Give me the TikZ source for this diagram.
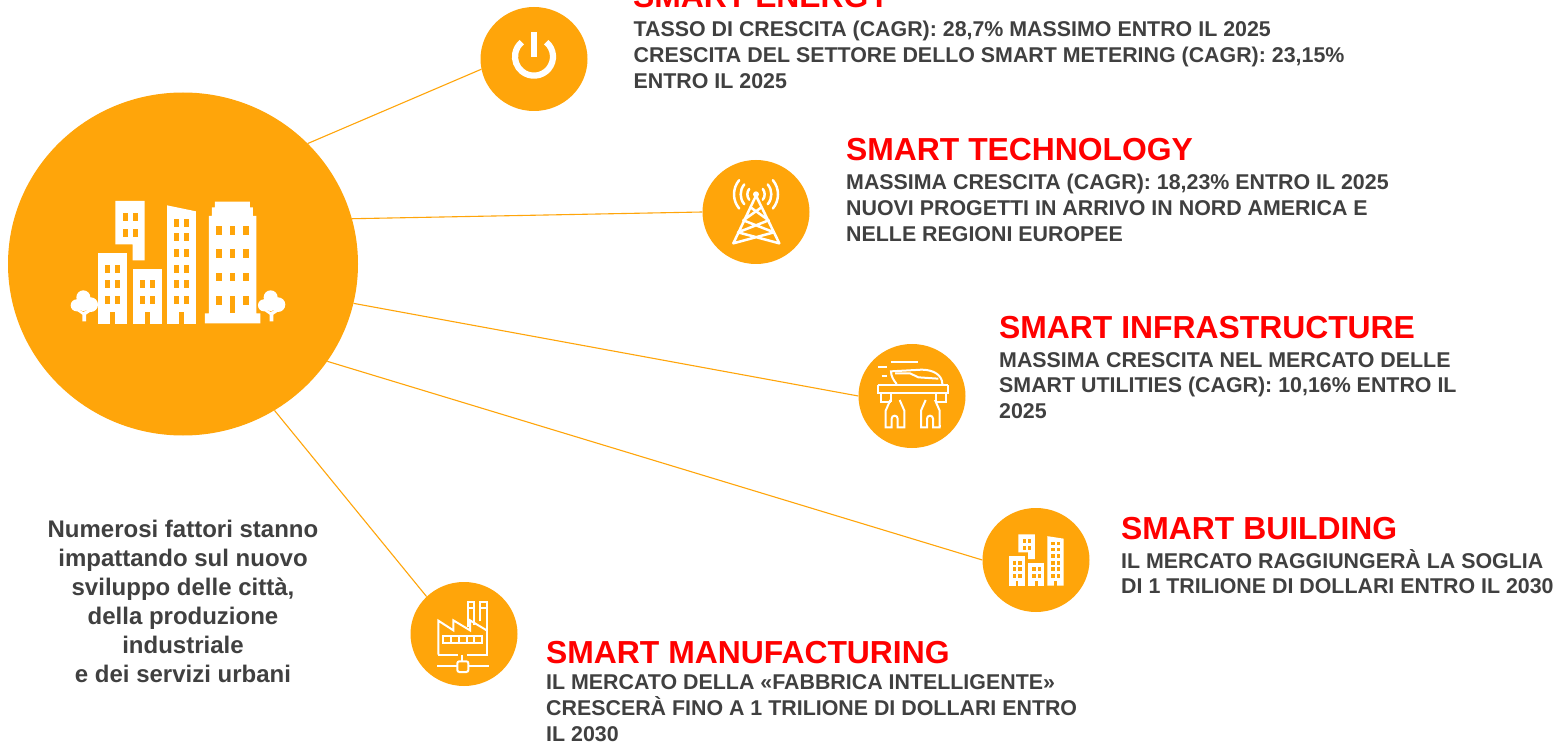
\documentclass[tikz,border=0pt]{standalone}
\usepackage{fontspec}
\setmainfont{Liberation Sans}
\usetikzlibrary{shapes.geometric}
\definecolor{orangeC}{HTML}{FFA50A}
\definecolor{greyT}{HTML}{404040}
\definecolor{redT}{HTML}{FF0000}
\tikzset{
  bigdisc/.style={ellipse,fill=orangeC,inner sep=0pt,minimum width=350pt,minimum height=343pt},
  disc/.style={ellipse,fill=orangeC,inner sep=0pt,minimum width=107pt,minimum height=104pt},
  link/.style={draw=orangeC,line width=1.1pt},
  ttl/.style={anchor=base west,inner sep=0pt,text=redT,font=\fontsize{31.85}{32}\selectfont\bfseries},
  body/.style={anchor=north west,inner sep=0pt,text=greyT,align=left,font=\fontsize{21.38}{25.8}\selectfont\bfseries},
  note/.style={anchor=north,inner sep=0pt,text=greyT,align=center,font=\fontsize{24}{29}\selectfont\bfseries},
  ic/.style={draw=white,line width=#1,fill=none,line join=miter},
  ic/.default=2pt,
}
\newcommand{\winW}{15}
\newcommand{\winH}{24}
\newcommand{\winrows}[3]{\foreach \yy in {#3} {\foreach \xx in {#1,#2} {\fill[orangeC] (\xx,\yy) rectangle ++(\winW,\winH);}}}
\newcommand{\cityblocks}{%
  \fill[white] (196,63) -- (284,63) -- (284,241) -- (248,241) -- (248,193) -- (196,193) -- cycle;
  \winrows{218}{248}{99,147}
  \fill[white] (144,218) rectangle (232,432);
  \fill[orangeC] (181,396) rectangle (196,432);
  \winrows{166}{196}{254,301,348}
  \fill[white] (248,266) rectangle (335,432);
  \fill[orangeC] (285,396) rectangle (299,432);
  \winrows{270}{299}{301,348}
  \fill[white] (351,76) -- (438,94) -- (438,432) -- (351,432) -- cycle;
  \fill[orangeC] (387,396) rectangle (402,432);
  \winrows{372}{402}{117,159,206,254,301,348}
}
\newcommand{\treeshape}{%
  \fill[white] (100,352) circle[radius=21] (80,376) circle[radius=18] (122,374) circle[radius=22] (100,372) circle[radius=21];
  \fill[white] (97,424) -- (97,404) -- (80,392) -- (86,388) -- (100,396) -- (122,386) -- (126,392) -- (108,404) -- (108,424) -- cycle;
}
\begin{document}
\begin{tikzpicture}[x=1pt,y=-1pt]
\useasboundingbox (0,0) rectangle (1556,743);
\clip (0,0) rectangle (1556,743);
\fill[white] (0,0) rectangle (1556,743);
\node[bigdisc] (main) at (183,264) {};
\node[disc] (energy) at (534,59) {};
\node[disc] (tech) at (756,212) {};
\node[disc] (infra) at (912,396) {};
\node[disc] (build) at (1036,560) {};
\node[disc] (manuf) at (464,634) {};
\draw[link] (main.44.5) -- (energy.191);
\draw[link] (main.15.9) -- (tech.west);
\draw[link] (main.-13.8) -- (infra.west);
\draw[link] (main.-34) -- (build.west);
\draw[link] (main.-58) -- (manuf.135);
% main icon
\begin{scope}[shift={(50,180)},x=0.33333pt,y=-0.33333pt]
  \cityblocks
  \fill[white] (495,65) -- (600,65) -- (600,82) -- (609,82) -- (609,108) -- (619,108) -- (619,400) -- (631,400) -- (631,430) -- (465,430) -- (465,400) -- (477,400) -- (477,108) -- (486,108) -- (486,82) -- (495,82) -- cycle;
  \foreach \yy in {138,208,278,348} {\foreach \xx in {498,580} {\fill[orangeC] (\xx,\yy) rectangle ++(17,26);}}
  \foreach \yy in {138,208,278} {\fill[orangeC] (539,\yy) rectangle ++(17,26);}
  \fill[orangeC] (539,348) rectangle (556,400);
  \treeshape
  \begin{scope}[xshift=187.3pt]\treeshape\end{scope}
\end{scope}
% power icon
\begin{scope}[shift={(470,0)},x=0.33333pt,y=-0.33333pt]
  \draw[white,line width=6.2pt] (192,170) ++(-50:57) arc[start angle=-50,end angle=230,radius=57];
  \fill[white] (182,95) rectangle (202,170);
\end{scope}
% tower icon
\begin{scope}[shift={(700,155)},x=0.33333pt,y=-0.33333pt]
  \fill[white] (168,118) circle[radius=9];
  \draw[ic=2.5pt,line cap=round,line join=round] (100,265) -- (168,122) -- (238,265)
    (100,265) -- (222,232) -- (130,196) -- (183,158)
    (238,265) -- (114,232) -- (206,196) -- (153,158);
  \foreach \rr/\aa in {26/38,46/40,66/40} {
    \draw[ic=2.5pt,line cap=round] (168,118) ++(180-\aa:\rr) arc[start angle=180-\aa,end angle=180+\aa,radius=\rr];
    \draw[ic=2.5pt,line cap=round] (168,118) ++(-\aa:\rr) arc[start angle=-\aa,end angle=\aa,radius=\rr];
  }
\end{scope}
% infrastructure icon
\begin{scope}[shift={(855,340)},x=0.33333pt,y=-0.33333pt]
  \draw[ic] (107,67) -- (188,67) (70,82) -- (95,82) (80,108) -- (95,108);
  \draw[ic] (125,132) .. controls (115,120) and (108,108) .. (108,94) -- (200,89) .. controls (235,89) and (262,105) .. (262,132);
  \draw[ic] (120,100) -- (165,100) -- (190,112) -- (250,116);
  \draw[ic] (70,136) -- (280,136) (70,136) -- (70,160) -- (280,160) -- (280,136);
  \draw[ic] (78,160) -- (78,187) -- (108,187) (272,160) -- (272,187) -- (244,187) (108,160) -- (108,187) (244,160) -- (244,187);
  \foreach \dx in {0,106} {
    \begin{scope}[xshift=\dx*0.33333pt]
    \draw[ic] (106,180) -- (92,212) -- (92,262) -- (110,262) -- (110,236) arc[start angle=180,end angle=360,radius=9] -- (128,262) -- (148,262) -- (148,212) -- (134,180);
    \end{scope}
  }
  \fill[white] (252,254) rectangle (258,262);
\end{scope}
% building icon
\begin{scope}[shift={(981.74,525.6)},x=0.187pt,y=-0.139pt]
  \renewcommand{\winW}{18}
  \renewcommand{\winH}{26}
  \cityblocks
\end{scope}
% factory icon
\begin{scope}[shift={(405,578)},x=0.33333pt,y=-0.33333pt]
  \draw[ic] (100,230) -- (100,128) -- (145,157) -- (145,127) -- (195,157) -- (195,127) -- (245,157);
  \draw[ic] (100,230) -- (160,230) (185,230) -- (245,230) -- (245,125);
  \draw[ic] (190,148) -- (190,72) -- (208,72) -- (208,140);
  \draw[ic] (226,130) -- (226,72) -- (245,72) -- (245,125);
  \draw[ic] (190,90) -- (208,90) (226,90) -- (245,90);
  \draw[ic] (115,174) rectangle (232,194) (139,174) -- (139,194) (162,174) -- (162,194) (185,174) -- (185,194) (208,174) -- (208,194);
  \draw[ic] (172,230) -- (172,250);
  \draw[ic,rounded corners=2pt] (157,250) rectangle (190,282);
  \draw[ic] (97,265) -- (157,265) (190,265) -- (252,265);
\end{scope}
% texts
\node[ttl] (t1) at (633,8) {SMART ENERGY};
\node[body] (b1) at (633.5,21) {TASSO DI CRESCITA (CAGR): 28,7\% MASSIMO ENTRO IL 2025\\CRESCITA DEL SETTORE DELLO SMART METERING (CAGR): 23,15\%\\ENTRO IL 2025};
\node[ttl] (t2) at (846,161) {SMART TECHNOLOGY};
\node[body] (b2) at (846,174) {MASSIMA CRESCITA (CAGR): 18,23\% ENTRO IL 2025\\NUOVI PROGETTI IN ARRIVO IN NORD AMERICA E\\NELLE REGIONI EUROPEE};
\node[ttl] (t3) at (999,339) {SMART INFRASTRUCTURE};
\node[body] (b3) at (999,352) {MASSIMA CRESCITA NEL MERCATO DELLE\\SMART UTILITIES (CAGR): 10,16\% ENTRO IL\\2025};
\node[ttl] (t4) at (1121,539) {SMART BUILDING};
\node[body] (b4) at (1121,549) {IL MERCATO RAGGIUNGERÀ LA SOGLIA\\DI 1 TRILIONE DI DOLLARI ENTRO IL 2030};
\node[ttl] (t5) at (546,663) {SMART MANUFACTURING};
\node[body] (b5) at (546,674.5) {IL MERCATO DELLA «FABBRICA INTELLIGENTE»\\CRESCERÀ FINO A 1 TRILIONE DI DOLLARI ENTRO\\IL 2030};
\node[note] (n) at (183,520) {Numerosi fattori stanno\\impattando sul nuovo\\sviluppo delle città,\\della produzione\\industriale\\e dei servizi urbani};
\end{tikzpicture}
\end{document}
